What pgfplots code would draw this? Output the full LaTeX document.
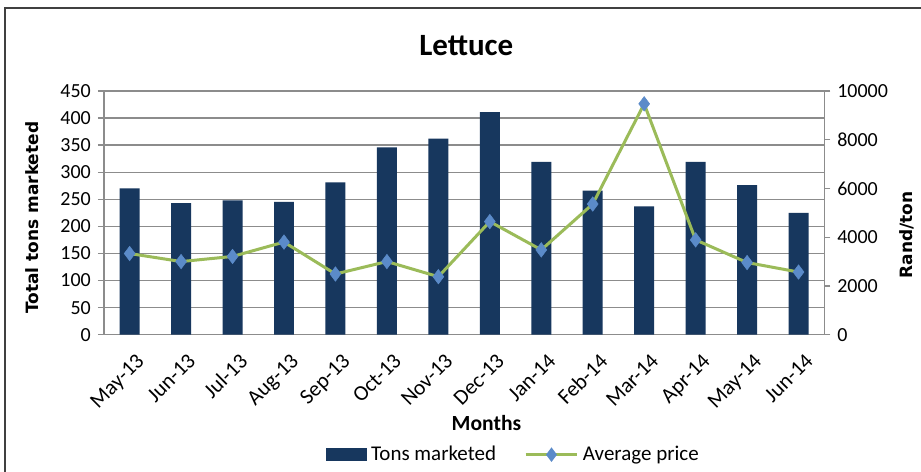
\documentclass[border=0pt]{standalone}
\usepackage{fontspec}
\setmainfont{Carlito}
\newfontfamily\labelfont{DejaVu Sans}
\usepackage{pgfplots}
\pgfplotsset{compat=1.18}
\definecolor{navy}{HTML}{17375E}
\definecolor{lgreen}{HTML}{9BBB59}
\definecolor{mblue}{HTML}{5B8BC9}
\definecolor{gridgray}{HTML}{8C8C8C}

\pgfplotstableread{
x tons price
0 270 3330
1 243 3000
2 248 3210
3 245 3800
4 281 2490
5 346 3000
6 362 2380
7 411 4640
8 319 3480
9 266 5360
10 237 9470
11 319 3890
12 276 2960
13 225 2570
}\lettuce

\pgfplotsset{
  common/.style={
    at={(52pt,66.5pt)}, anchor=south west,
    width=360.5pt, height=122pt, scale only axis,
    xmin=-0.5, xmax=13.5,
    /pgf/number format/assume math mode=true,
    /pgf/number format/1000 sep={},
    scaled y ticks=false,
    tick label style={font=\fontsize{10}{12}\selectfont},
    axis line style={gridgray, line width=0.6pt},
    tick style={gridgray, line width=0.6pt},
    major tick length=3pt,
    tick align=outside,
  }
}

\begin{document}
\begin{tikzpicture}
\begin{scope}[x=0.5pt,y=0.5pt]
\useasboundingbox (0,0) rectangle (921,468);
\fill[white] (0,0) rectangle (921,468);
\draw[line width=1.1pt, black!75] (5,-5) -- (5,460) -- (930,460);
\end{scope}

\begin{axis}[common,
  ymin=0, ymax=450, ytick={0,50,...,450},
  xtick={0,...,13},
  xticklabels={May-13,Jun-13,Jul-13,Aug-13,Sep-13,Oct-13,Nov-13,Dec-13,Jan-14,Feb-14,Mar-14,Apr-14,May-14,Jun-14},
  x tick label style={rotate=45, anchor=north east, inner sep=1pt, yshift=-5pt, xshift=-1pt, font=\fontsize{10.8}{12}\selectfont},
  xtick style={draw=none},
  ymajorgrids, grid style={gridgray, line width=0.6pt},
  axis x line*=bottom, axis y line*=left,
  every axis title shift=0pt,
  title={\bfseries Lettuce},
  title style={font=\fontsize{15.5}{18}\selectfont, at={(axis description cs:0.503,1.184)}, anchor=center},
  ylabel={\labelfont\bfseries Total tons marketed},
  ylabel style={font=\fontsize{8.5}{10}\selectfont, at={(axis description cs:-0.0999,0.48)}, anchor=center},
  xlabel={\bfseries Months},
  xlabel style={font=\fontsize{10.8}{12}\selectfont, at={(axis description cs:0.531,-0.363)}, anchor=center},
]
\addplot[ybar, bar width=10pt, fill=navy, draw=none] table[x=x, y=tons] {\lettuce};
\end{axis}

\begin{axis}[common,
  ymin=0, ymax=10000, ytick={0,2000,...,10000},
  axis y line*=right, axis x line=none,
  ylabel={\labelfont\bfseries Rand/ton},
  ylabel style={font=\fontsize{8.5}{10}\selectfont, at={(axis description cs:1.115,0.41)}, anchor=center, rotate=0},
  legend style={at={(axis description cs:0.57,-0.492)}, anchor=center, draw=none, fill=none,
    font=\fontsize{10.5}{12}\selectfont, legend columns=2,
    /tikz/every even column/.append style={column sep=12pt}},
  legend cell align=left,
]
\addlegendimage{legend image code/.code={\fill[navy] (0pt,-3pt) rectangle (20pt,3pt);}}
\addlegendentry{Tons marketed}
\addplot[lgreen, line width=1.5pt, mark=diamond*, mark size=3.6pt,
  mark options={fill=mblue, draw=mblue, line width=0.3pt},
  legend image code/.code={\draw[lgreen, line width=1.5pt] (0pt,0pt) -- (26pt,0pt);
    \fill[mblue] (13pt,2.4pt) -- (14.8pt,0pt) -- (13pt,-2.4pt) -- (11.2pt,0pt) -- cycle;}]
  table[x=x, y=price] {\lettuce};
\addlegendentry{Average price}
\end{axis}
\end{tikzpicture}
\end{document}
